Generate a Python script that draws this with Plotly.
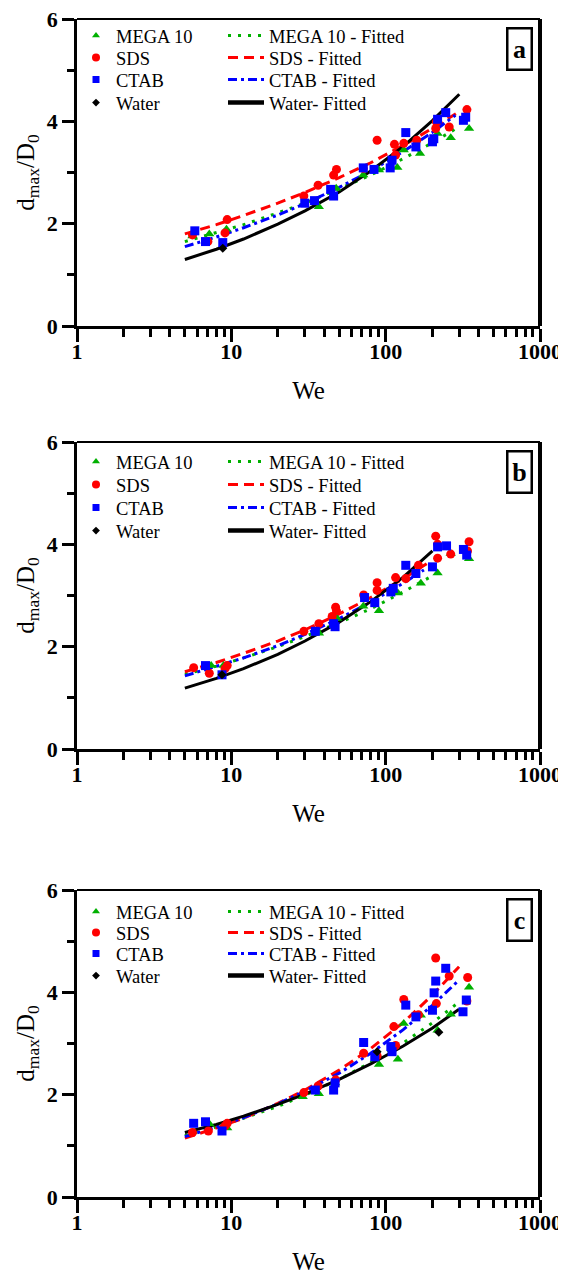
import plotly.graph_objects as go

# ---------------- data ----------------
# Panel a
mega_a_we = [5.6, 7.2, 9.3, 36.9, 47.8, 71.6, 90.5, 119, 131, 167, 217, 264, 347]
mega_a_d = [1.76, 1.80, 1.89, 2.33, 2.69, 2.95, 3.05, 3.10, 3.44, 3.37, 3.76, 3.68, 3.86]
sds_a_we = [5.6, 7.05, 9.1, 9.4, 29.5, 36.5, 46, 48, 71.6, 88, 114, 116, 131, 159, 211, 213, 258, 336]
sds_a_d = [1.78, 1.65, 1.82, 2.08, 2.54, 2.75, 2.95, 3.06, 3.08, 3.63, 3.55, 3.34, 3.57, 3.63, 3.86, 3.99, 3.89, 4.23]
ctab_a_we = [5.8, 6.8, 8.8, 29.9, 34.6, 44, 46, 71.6, 84, 107, 110, 135, 157, 201, 205, 217, 245, 319, 330]
ctab_a_d = [1.86, 1.65, 1.63, 2.40, 2.45, 2.67, 2.54, 3.09, 3.06, 3.09, 3.24, 3.78, 3.50, 3.60, 3.66, 4.04, 4.17, 4.02, 4.08]
water_a_we = [8.8]
water_a_d = [1.52]

fit_a_we = [5, 8, 12, 20, 30, 50, 80, 130, 200]
fit_water_a_we = fit_a_we + [300]
fit_water_a_d = [1.30, 1.50, 1.70, 1.99, 2.25, 2.62, 3.03, 3.51, 4.01, 4.53]
fit_sds_a_we = fit_a_we + [285]
fit_sds_a_d = [1.80, 1.98, 2.16, 2.40, 2.61, 2.90, 3.19, 3.53, 3.86, 4.15]
fit_ctab_a_we = fit_a_we + [283]
fit_ctab_a_d = [1.55, 1.74, 1.92, 2.17, 2.39, 2.71, 3.03, 3.41, 3.78, 4.12]
fit_mega_a_we = fit_a_we + [298]
fit_mega_a_d = [1.65, 1.82, 1.98, 2.21, 2.40, 2.68, 2.95, 3.27, 3.58, 3.89]

# Panel b
mega_b_we = [7.4, 8.9, 37, 48.5, 71.6, 90.5, 120, 169, 217, 264, 347]
mega_b_d = [1.63, 1.63, 2.26, 2.55, 2.79, 2.70, 3.05, 3.24, 3.44, 3.82, 3.72]
sds_b_we = [5.7, 7.2, 9.1, 9.4, 29.5, 36.9, 45, 47.4, 48, 72, 88, 88, 116, 135, 163, 211, 217, 217, 264, 339, 347]
sds_b_d = [1.59, 1.48, 1.57, 1.63, 2.30, 2.45, 2.59, 2.77, 2.70, 3.01, 3.25, 3.10, 3.35, 3.33, 3.59, 4.16, 4.00, 3.73, 3.81, 3.87, 4.05]
ctab_b_we = [6.8, 8.7, 35, 46, 47, 73, 85, 108, 112, 135, 157, 201, 217, 248, 319, 335]
ctab_b_d = [1.63, 1.45, 2.30, 2.45, 2.39, 2.96, 2.86, 3.07, 3.14, 3.59, 3.43, 3.56, 3.95, 3.97, 3.90, 3.79]
water_b_we = [8.7]
water_b_d = [1.45]

fit_b_we = [5, 8, 12, 20, 30, 50, 80, 130]
fit_water_b_we = fit_b_we + [201]
fit_water_b_d = [1.19, 1.38, 1.57, 1.85, 2.11, 2.48, 2.88, 3.36, 3.87]
fit_sds_b_we = fit_b_we + [186]
fit_sds_b_d = [1.51, 1.69, 1.87, 2.11, 2.33, 2.64, 2.96, 3.33, 3.63]
fit_ctab_b_we = fit_b_we + [177]
fit_ctab_b_d = [1.43, 1.61, 1.78, 2.02, 2.24, 2.55, 2.87, 3.24, 3.50]
fit_mega_b_we = fit_b_we + [205]
fit_mega_b_d = [1.46, 1.62, 1.78, 2.00, 2.20, 2.47, 2.74, 3.07, 3.40]

# Panel c
mega_c_we = [7.2, 9.4, 29, 36.9, 47, 90.5, 120, 131, 169, 217, 264, 347]
mega_c_d = [1.43, 1.35, 1.96, 2.02, 2.23, 2.59, 2.69, 3.39, 3.55, 3.26, 3.57, 4.10]
sds_c_we = [5.6, 7.1, 9.1, 9.4, 29.5, 36.5, 47.4, 72, 88, 113, 116, 131, 163, 211, 213, 258, 336, 340]
sds_c_d = [1.26, 1.29, 1.39, 1.44, 2.04, 2.17, 2.29, 2.81, 2.76, 3.33, 2.96, 3.86, 3.56, 4.67, 3.78, 4.32, 3.83, 4.29]
ctab_c_we = [5.7, 6.8, 8.7, 35, 46, 47, 72, 85, 108, 110, 135, 157, 201, 206, 211, 245, 317, 333]
ctab_c_d = [1.44, 1.47, 1.29, 2.09, 2.09, 2.23, 3.02, 2.74, 2.94, 2.84, 3.75, 3.52, 3.65, 3.99, 4.22, 4.47, 3.62, 3.85]
water_c_we = [88, 221]
water_c_d = [2.84, 3.22]

fit_c_we = [5, 8, 12, 20, 30, 50, 80, 130, 200, 299]
fit_water_c_d = [1.26, 1.42, 1.58, 1.81, 2.01, 2.30, 2.60, 2.95, 3.30, 3.67]
fit_sds_c_d = [1.15, 1.35, 1.54, 1.83, 2.09, 2.48, 2.90, 3.41, 3.94, 4.50]
fit_ctab_c_d = [1.18, 1.37, 1.55, 1.82, 2.07, 2.42, 2.81, 3.27, 3.74, 4.24]
fit_mega_c_d = [1.20, 1.37, 1.54, 1.77, 1.99, 2.30, 2.63, 3.01, 3.40, 3.81]

panel_labels = ["a", "b", "c"]
series_names = ["MEGA 10", "SDS", "CTAB", "Water"]
fit_names = ["MEGA 10 - Fitted", "SDS - Fitted", "CTAB - Fitted", "Water- Fitted"]
x_ticks = [1, 10, 100, 1000]
y_ticks = [0, 2, 4, 6]

# ---------------- styling ----------------
GREEN, RED, BLUE, BLACK = "#00b000", "#ff0000", "#0000ff", "#000000"
FONT = "Liberation Serif"
W, H = 558, 1270          # page body has an 8px margin
colors = [GREEN, RED, BLUE, BLACK]
symbols = ["triangle-up", "circle", "square", "diamond"]
msize = [9, 9, 9, 7]
leg_msize = [7, 8, 7, 6]
dashes = ["3px,7px", "10px,6px", "9px,4px,3px,4px", "solid"]

panels = [
    dict(pts=[(mega_a_we, mega_a_d), (sds_a_we, sds_a_d), (ctab_a_we, ctab_a_d), (water_a_we, water_a_d)],
         fits=[(fit_mega_a_we, fit_mega_a_d), (fit_sds_a_we, fit_sds_a_d), (fit_ctab_a_we, fit_ctab_a_d), (fit_water_a_we, fit_water_a_d)],
         top=11, bottom=318, rows=[28, 50, 72, 95]),
    dict(pts=[(mega_b_we, mega_b_d), (sds_b_we, sds_b_d), (ctab_b_we, ctab_b_d), (water_b_we, water_b_d)],
         fits=[(fit_mega_b_we, fit_mega_b_d), (fit_sds_b_we, fit_sds_b_d), (fit_ctab_b_we, fit_ctab_b_d), (fit_water_b_we, fit_water_b_d)],
         top=434, bottom=741, rows=[454, 477, 500, 523]),
    dict(pts=[(mega_c_we, mega_c_d), (sds_c_we, sds_c_d), (ctab_c_we, ctab_c_d), (water_c_we, water_c_d)],
         fits=[(fit_c_we, fit_mega_c_d), (fit_c_we, fit_sds_c_d), (fit_c_we, fit_ctab_c_d), (fit_c_we, fit_water_c_d)],
         top=882, bottom=1189, rows=[904, 925, 946, 968]),
]

fig = go.Figure()
layout = dict(
    width=W, height=H, template="none",
    margin=dict(l=0, r=0, t=0, b=0),
    paper_bgcolor="white", plot_bgcolor="white",
    font=dict(family=FONT, color="black"),
    showlegend=True,
)
shapes, annotations = [], []
x_left, x_right = 69, 532
minor_x = [m * 10 ** k for k in range(3) for m in range(2, 10)]
legfont = dict(family=FONT, size=18.5, color="black")

leg_idx = 0


def next_legend():
    global leg_idx
    leg_idx += 1
    return "legend" if leg_idx == 1 else "legend%d" % leg_idx


for i, p in enumerate(panels):
    sfx = "" if i == 0 else str(i + 1)
    xa, ya = "x" + sfx, "y" + sfx

    for k, (xs, ys) in enumerate(p["fits"]):
        fig.add_trace(go.Scatter(x=xs, y=ys, mode="lines", xaxis=xa, yaxis=ya,
                                 line=dict(color=colors[k], width=3, dash=dashes[k]),
                                 showlegend=False, hoverinfo="skip"))
    for k, (xs, ys) in enumerate(p["pts"]):
        fig.add_trace(go.Scatter(x=xs, y=ys, mode="markers", xaxis=xa, yaxis=ya,
                                 marker=dict(color=colors[k], symbol=symbols[k], size=msize[k], line=dict(width=0)),
                                 showlegend=False))
    # one small legend per entry so each row/column sits where the reference has it
    for k in range(4):
        ly = 1 - p["rows"][k] / H
        lm = next_legend()
        fig.add_trace(go.Scatter(x=[None], y=[None], mode="markers", xaxis=xa, yaxis=ya,
                                 name=series_names[k], legend=lm,
                                 marker=dict(color=colors[k], symbol=symbols[k], size=leg_msize[k], line=dict(width=0))))
        layout[lm] = dict(x=68 / W, xanchor="left", y=ly, yanchor="middle",
                          bgcolor="rgba(0,0,0,0)", font=legfont,
                          itemclick=False, itemdoubleclick=False)
        lf = next_legend()
        fig.add_trace(go.Scatter(x=[None], y=[None], mode="lines", xaxis=xa, yaxis=ya,
                                 name=fit_names[k], legend=lf,
                                 line=dict(color=colors[k], width=3 if k < 3 else 4.5, dash=dashes[k])))
        layout[lf] = dict(x=215 / W, xanchor="left", y=ly, yanchor="middle",
                          bgcolor="rgba(0,0,0,0)", font=legfont, itemwidth=36,
                          itemclick=False, itemdoubleclick=False)

    ydom = [1 - p["bottom"] / H, 1 - p["top"] / H]
    layout["xaxis" + sfx] = dict(
        type="log", range=[0, 3], domain=[x_left / W, x_right / W], anchor=ya,
        tickvals=x_ticks, ticktext=[str(v) for v in x_ticks],
        ticks="outside", ticklen=13, tickwidth=2.5, tickcolor="black",
        minor=dict(tickvals=minor_x, ticks="outside", ticklen=8, tickwidth=2.5, tickcolor="black"),
        showline=True, linewidth=2.5, linecolor="black", showgrid=False, zeroline=False,
        tickfont=dict(family=FONT, size=22, weight="bold", color="black"),
        ticklabelstandoff=-9, ticklabeloverflow="allow",
        title=dict(text="We", font=dict(family=FONT, size=25), standoff=19),
    )
    layout["yaxis" + sfx] = dict(
        range=[0, 6], domain=ydom, anchor=xa,
        tickvals=y_ticks, ticks="outside", ticklen=12, tickwidth=2.5, tickcolor="black",
        minor=dict(tickvals=[1, 3, 5], ticks="outside", ticklen=7, tickwidth=2.5, tickcolor="black"),
        showline=True, linewidth=2.5, linecolor="black", showgrid=False, zeroline=False,
        tickfont=dict(family=FONT, size=22, weight="bold", color="black"),
        ticklabeloverflow="allow",
        title=dict(text="d<sub>max</sub>/D<sub>0</sub>", font=dict(family=FONT, size=25), standoff=6),
    )

    shapes.append(dict(type="line", xref=xa + " domain", yref=ya + " domain",
                       x0=0, x1=1, y0=1, y1=1, line=dict(color="black", width=2)))
    shapes.append(dict(type="line", xref=xa + " domain", yref=ya + " domain",
                       x0=1, x1=1, y0=0, y1=1, line=dict(color="black", width=4)))
    annotations.append(dict(text="<b>%s</b>" % panel_labels[i], xref=xa + " domain", yref=ya + " domain",
                            x=0.955, y=0.902, xanchor="center", yanchor="middle", showarrow=False,
                            font=dict(family=FONT, size=26, color="black"),
                            bordercolor="black", borderwidth=2.5, borderpad=2, bgcolor="white",
                            width=18, height=35))

layout["shapes"] = shapes
layout["annotations"] = annotations
fig.update_layout(**layout)
fig.write_html("out.html")
